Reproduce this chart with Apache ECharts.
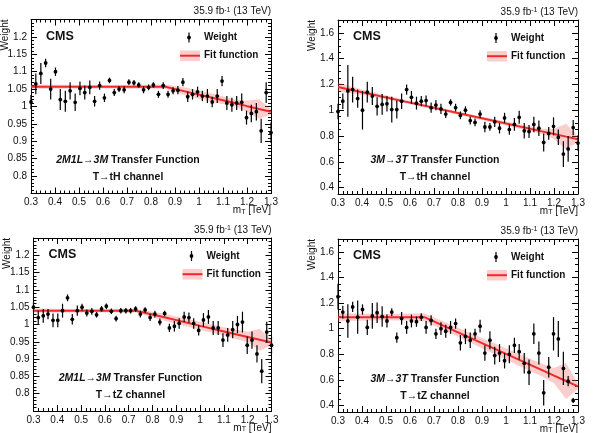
<!DOCTYPE html>
<html>
<head>
<meta charset="utf-8">
<script src="https://cdn.jsdelivr.net/npm/echarts@6/dist/echarts.min.js"></script>
<style>
  html, body { margin: 0; padding: 0; background: #fff; }
  #chart { width: 607px; height: 433px; }
</style>
</head>
<body>
<div id="chart"></div>
<script>
// bin positions (m_T in TeV), shared by all four panels
var mT = [0.300, 0.320, 0.341, 0.361, 0.382, 0.402, 0.422, 0.443, 0.463, 0.484,
          0.504, 0.524, 0.545, 0.565, 0.586, 0.606, 0.627, 0.647, 0.667, 0.688,
          0.708, 0.729, 0.749, 0.769, 0.790, 0.810, 0.831, 0.851, 0.871, 0.892,
          0.912, 0.933, 0.953, 0.973, 0.994, 1.014, 1.035, 1.055, 1.076, 1.096,
          1.116, 1.137, 1.157, 1.178, 1.198, 1.218, 1.239, 1.259, 1.280, 1.300];

var xTicks = [0.3, 0.4, 0.5, 0.6, 0.7, 0.8, 0.9, 1, 1.1, 1.2, 1.3];
var yTicksFine = [0.8, 0.85, 0.9, 0.95, 1, 1.05, 1.1, 1.15, 1.2];
var yTicksCoarse = [0.4, 0.6, 0.8, 1, 1.2, 1.4, 1.6];

// top left: 2M1L -> 3M, T -> tH
var weightTH1 = [1.013, 1.065, 1.095, 1.125, 1.050, 1.100, 1.020, 1.015, 1.045, 1.012,
                 1.052, 1.040, 1.055, 1.015, 1.060, 1.025, 1.075, 1.040, 1.050, 1.048,
                 1.070, 1.068, 1.062, 1.048, 1.055, 1.062, 1.035, 1.060, 1.035, 1.045,
                 1.047, 1.070, 1.028, 1.035, 1.042, 1.030, 1.030, 1.013, 1.030, 1.073,
                 1.010, 1.005, 1.010, 1.012, 0.968, 0.980, 0.985, 0.930, 1.040, 0.925];
var errTH1 = [0.020, 0.030, 0.030, 0.012, 0.030, 0.012, 0.030, 0.030, 0.025, 0.025,
              0.020, 0.020, 0.020, 0.015, 0.012, 0.012, 0.008, 0.010, 0.008, 0.010,
              0.008, 0.008, 0.008, 0.010, 0.008, 0.008, 0.010, 0.010, 0.010, 0.010,
              0.012, 0.012, 0.015, 0.015, 0.015, 0.015, 0.020, 0.015, 0.020, 0.015,
              0.020, 0.020, 0.020, 0.025, 0.020, 0.025, 0.025, 0.035, 0.030, 0.030];
var fitXTH1 = [0.3, 0.6, 0.86, 0.95, 1.05, 1.15, 1.2, 1.25, 1.3];
var fitYTH1 = [1.057, 1.057, 1.057, 1.042, 1.026, 1.010, 1.001, 0.993, 0.985];
var bandTH1 = [0.006, 0.005, 0.006, 0.012, 0.012, 0.010, 0.016, 0.028, 0.008];

// top right: 3M -> 3T, T -> tH
var weightTH2 = [0.990, 1.070, 1.150, 1.160, 1.090, 1.000, 1.140, 1.110, 1.030, 1.045,
                 1.050, 1.005, 1.005, 1.070, 1.160, 1.100, 1.055, 1.070, 1.075, 1.020,
                 1.040, 1.010, 0.970, 1.060, 1.020, 0.960, 1.000, 0.920, 0.905, 0.970,
                 0.870, 0.870, 0.910, 0.860, 0.940, 0.850, 0.890, 0.945, 0.840, 0.835,
                 0.890, 0.860, 0.750, 0.820, 0.875, 0.790, 0.660, 0.700, 0.865, 0.745];
var errTH2 = [0.06, 0.06, 0.20, 0.10, 0.07, 0.15, 0.08, 0.07, 0.07, 0.08,
              0.06, 0.10, 0.07, 0.06, 0.04, 0.05, 0.05, 0.04, 0.04, 0.04,
              0.04, 0.04, 0.03, 0.025, 0.03, 0.03, 0.03, 0.03, 0.03, 0.03,
              0.04, 0.03, 0.04, 0.04, 0.04, 0.04, 0.05, 0.05, 0.06, 0.05,
              0.06, 0.06, 0.07, 0.05, 0.07, 0.06, 0.10, 0.10, 0.06, 0.06];
var fitXTH2 = [0.3, 0.4, 0.6, 0.9, 1.15, 1.2, 1.25, 1.3];
var fitYTH2 = [1.180, 1.140, 1.059, 0.937, 0.836, 0.816, 0.795, 0.775];
var bandTH2 = [0.035, 0.020, 0.012, 0.012, 0.020, 0.040, 0.100, 0.020];

// bottom left: 2M1L -> 3M, T -> tZ
var weightTZ1 = [1.050, 1.020, 1.025, 1.030, 1.012, 1.012, 1.040, 1.077, 1.015, 1.040,
                 1.050, 1.033, 1.038, 1.028, 1.045, 1.053, 1.038, 1.017, 1.040, 1.040,
                 1.040, 1.045, 1.030, 1.042, 1.020, 1.030, 1.007, 1.032, 0.990, 0.995,
                 1.003, 1.022, 1.020, 1.003, 0.983, 1.013, 1.022, 0.990, 0.990, 0.955,
                 0.970, 0.985, 1.000, 1.007, 0.940, 0.955, 0.915, 0.865, 0.978, 0.940];
var errTZ1 = [0.015, 0.020, 0.020, 0.015, 0.020, 0.020, 0.020, 0.010, 0.015, 0.015,
              0.010, 0.010, 0.010, 0.008, 0.008, 0.008, 0.008, 0.008, 0.008, 0.008,
              0.008, 0.008, 0.010, 0.008, 0.010, 0.010, 0.010, 0.008, 0.012, 0.015,
              0.015, 0.015, 0.015, 0.015, 0.015, 0.020, 0.020, 0.020, 0.020, 0.020,
              0.020, 0.025, 0.025, 0.030, 0.025, 0.025, 0.025, 0.035, 0.030, 0.025];
var fitXTZ1 = [0.3, 0.5, 0.73, 0.85, 1.0, 1.1, 1.2, 1.25, 1.3];
var fitYTZ1 = [1.040, 1.040, 1.040, 1.021, 0.996, 0.980, 0.964, 0.956, 0.948];
var bandTZ1 = [0.006, 0.005, 0.005, 0.010, 0.012, 0.012, 0.015, 0.032, 0.008];

// bottom right: 3M -> 3T, T -> tZ
var weightTZ2 = [1.250, 1.130, 1.060, 1.170, 1.090, 1.150, 1.010, 1.100, 1.125, 1.095,
                 1.060, 1.130, 0.930, 1.080, 1.010, 1.060, 1.055, 1.090, 1.010, 1.065,
                 0.960, 1.000, 0.980, 1.010, 1.040, 0.890, 0.940, 0.910, 0.960, 1.020,
                 0.810, 0.910, 0.790, 0.810, 0.750, 0.800, 0.870, 0.820, 0.730, 0.660,
                 0.960, 0.810, 0.500, 0.700, 0.960, 0.920, 0.690, 0.590, 0.440, null];
var errTZ2 = [0.10, 0.05, 0.13, 0.04, 0.13, 0.04, 0.06, 0.10, 0.08, 0.08,
              0.05, 0.03, 0.04, 0.05, 0.05, 0.05, 0.04, 0.03, 0.05, 0.04,
              0.04, 0.05, 0.05, 0.05, 0.04, 0.06, 0.06, 0.06, 0.04, 0.05,
              0.06, 0.07, 0.07, 0.07, 0.06, 0.07, 0.06, 0.06, 0.08, 0.10,
              0.08, 0.09, 0.10, 0.08, 0.13, 0.14, 0.13, 0.04, 0.02, null];
var fitXTZ2 = [0.3, 0.5, 0.66, 0.8, 1.0, 1.15, 1.2, 1.25, 1.3];
var fitYTZ2 = [1.090, 1.090, 1.090, 0.972, 0.803, 0.677, 0.634, 0.592, 0.550];
var bandTZ2 = [0.030, 0.025, 0.030, 0.035, 0.045, 0.050, 0.060, 0.140, 0.020];

var FONT = "'Liberation Sans', Arial, 'DejaVu Sans', sans-serif";
var RED = "#ee2a2a";
var PINK = "rgba(245, 90, 90, 0.3)";

var panels = [
  { left: 31, top: 19.5, width: 240, height: 174, ymin: 0.75, ymax: 1.25, yTicks: yTicksFine, yMinor: 0.01,
    w: weightTH1, e: errTH1, fx: fitXTH1, fy: fitYTH1, fb: bandTH1, tf: "2M1L→3M", ch: "T→tH channel" },
  { left: 338, top: 20, width: 240, height: 174, ymin: 0.35, ymax: 1.7, yTicks: yTicksCoarse, yMinor: 0.05,
    w: weightTH2, e: errTH2, fx: fitXTH2, fy: fitYTH2, fb: bandTH2, tf: "3M→3T", ch: "T→tH channel" },
  { left: 33.5, top: 238, width: 238, height: 173, ymin: 0.75, ymax: 1.25, yTicks: yTicksFine, yMinor: 0.01,
    w: weightTZ1, e: errTZ1, fx: fitXTZ1, fy: fitYTZ1, fb: bandTZ1, tf: "2M1L→3M", ch: "T→tZ channel" },
  { left: 338, top: 239, width: 240, height: 173, ymin: 0.35, ymax: 1.7, yTicks: yTicksCoarse, yMinor: 0.05,
    w: weightTZ2, e: errTZ2, fx: fitXTZ2, fy: fitYTZ2, fb: bandTZ2, tf: "3M→3T", ch: "T→tZ channel" }
];

function minorTicks(min, max, step) {
  var out = [];
  for (var v = min; v <= max + 1e-9; v += step) out.push(Math.round(v * 1000) / 1000);
  return out;
}

function makeAxis(g, min, max, pos, ticks, len, withLine, withLabels) {
  return {
    type: "value", gridIndex: g, min: min, max: max, position: pos,
    axisLine: { show: withLine, onZero: false, lineStyle: { color: "#000", width: 1 } },
    axisTick: { show: true, inside: true, length: len, customValues: ticks, lineStyle: { color: "#000", width: 1 } },
    axisLabel: { show: withLabels, customValues: ticks, margin: (pos == "bottom" ? 4 : 4),
                 fontSize: 10, fontFamily: FONT, color: "#111" },
    splitLine: { show: false }
  };
}

function bandRender(fx, fy, fb) {
  return function (params, api) {
    var pts = [];
    for (var i = 0; i < fx.length; i++) pts.push(api.coord([fx[i], fy[i] + fb[i]]));
    for (var j = fx.length - 1; j >= 0; j--) pts.push(api.coord([fx[j], fy[j] - fb[j]]));
    return { type: "polygon", shape: { points: pts }, style: { fill: PINK } };
  };
}

function errRender(params, api) {
  var x = api.value(0), y = api.value(1), e = api.value(2);
  var c = api.coord([x, y]);
  var hi = api.coord([x, y + e]);
  var lo = api.coord([x, y - e]);
  return {
    type: "group",
    children: [
      { type: "line", shape: { x1: c[0], y1: hi[1], x2: c[0], y2: lo[1] }, style: { stroke: "#000", lineWidth: 1.2 } },
      { type: "circle", shape: { cx: c[0], cy: c[1], r: 1.9 }, style: { fill: "#000" } }
    ]
  };
}

var grids = [], xAxes = [], yAxes = [], series = [], graphics = [];

panels.forEach(function (p, g) {
  grids.push({ left: p.left, top: p.top, width: p.width, height: p.height, show: false });

  var xi = xAxes.length, yi = yAxes.length;
  xAxes.push(makeAxis(g, 0.3, 1.3, "bottom", xTicks, 6, true, true));
  xAxes.push(makeAxis(g, 0.3, 1.3, "bottom", minorTicks(0.3, 1.3, 0.02), 3, false, false));
  xAxes.push(makeAxis(g, 0.3, 1.3, "top", xTicks, 6, true, false));
  xAxes.push(makeAxis(g, 0.3, 1.3, "top", minorTicks(0.3, 1.3, 0.02), 3, false, false));
  yAxes.push(makeAxis(g, p.ymin, p.ymax, "left", p.yTicks, 6, true, true));
  yAxes.push(makeAxis(g, p.ymin, p.ymax, "left", minorTicks(p.ymin, p.ymax, p.yMinor), 3, false, false));
  yAxes.push(makeAxis(g, p.ymin, p.ymax, "right", p.yTicks, 6, true, false));
  yAxes.push(makeAxis(g, p.ymin, p.ymax, "right", minorTicks(p.ymin, p.ymax, p.yMinor), 3, false, false));

  var pts = [];
  mT.forEach(function (x, i) {
    if (p.w[i] != null) pts.push([x, p.w[i], p.e[i]]);
  });

  series.push({
    type: "custom", xAxisIndex: xi, yAxisIndex: yi, clip: true, silent: true, z: 1,
    data: [[p.fx[0], p.fy[0]]], renderItem: bandRender(p.fx, p.fy, p.fb)
  });
  series.push({
    type: "line", xAxisIndex: xi, yAxisIndex: yi, symbol: "none", silent: true, z: 2,
    lineStyle: { color: RED, width: 2 },
    data: p.fx.map(function (x, i) { return [x, p.fy[i]]; })
  });
  series.push({
    type: "custom", xAxisIndex: xi, yAxisIndex: yi, silent: true, z: 3,
    encode: { x: 0, y: 1 }, data: pts, renderItem: errRender
  });

  var txt = { fontFamily: FONT, fill: "#111" };
  graphics.push({
    type: "group", x: p.left, y: p.top,
    children: [
      { type: "text", x: p.width, y: -8,
        style: Object.assign({ text: "35.9 fb{s|-1} (13 TeV)", fontSize: 10, align: "right", verticalAlign: "middle",
                               rich: { s: { fontSize: 7, verticalAlign: "top", fontFamily: FONT } } }, txt) },
      { type: "text", x: -26, y: 0, rotation: Math.PI / 2,
        style: Object.assign({ text: "Weight", fontSize: 10, align: "right", verticalAlign: "middle" }, txt) },
      { type: "text", x: p.width, y: p.height + 17,
        style: Object.assign({ text: "m{s|T} [TeV]", fontSize: 10, align: "right", verticalAlign: "middle",
                               rich: { s: { fontSize: 7, verticalAlign: "bottom", fontFamily: FONT } } }, txt) },
      { type: "text", x: 15, y: 17,
        style: Object.assign({ text: "CMS", fontSize: 12.5, fontWeight: "bold", verticalAlign: "middle" }, txt) },
      { type: "line", shape: { x1: 158, y1: 13, x2: 158, y2: 23 }, style: { stroke: "#000", lineWidth: 1.2 } },
      { type: "circle", shape: { cx: 158, cy: 18, r: 1.9 }, style: { fill: "#000" } },
      { type: "text", x: 173, y: 18,
        style: Object.assign({ text: "Weight", fontSize: 10, fontWeight: "bold", verticalAlign: "middle" }, txt) },
      { type: "rect", shape: { x: 149, y: 31, width: 20, height: 10.5 }, style: { fill: PINK } },
      { type: "line", shape: { x1: 149, y1: 36.2, x2: 169, y2: 36.2 }, style: { stroke: RED, lineWidth: 2 } },
      { type: "text", x: 173, y: 36,
        style: Object.assign({ text: "Fit function", fontSize: 10, fontWeight: "bold", verticalAlign: "middle" }, txt) },
      { type: "text", x: 97, y: 140.5,
        style: Object.assign({ text: "{i|" + p.tf + "} Transfer Function", fontSize: 10.5, fontWeight: "bold",
                               align: "center", verticalAlign: "middle",
                               rich: { i: { fontStyle: "italic", fontWeight: "bold", fontSize: 10.5, fontFamily: FONT, fill: "#111" } } }, txt) },
      { type: "text", x: 97, y: 157.5,
        style: Object.assign({ text: p.ch, fontSize: 10.5, fontWeight: "bold", align: "center", verticalAlign: "middle" }, txt) }
    ]
  });
});

var chart = echarts.init(document.getElementById("chart"));
chart.setOption({
  animation: false,
  backgroundColor: "#fff",
  grid: grids,
  xAxis: xAxes,
  yAxis: yAxes,
  series: series,
  graphic: graphics
});
</script>
</body>
</html>
